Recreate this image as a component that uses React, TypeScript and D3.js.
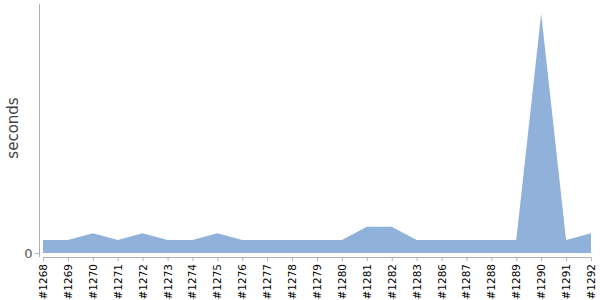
import React from "react";
import * as d3 from "d3";

const builds = ["#1268","#1269","#1270","#1271","#1272","#1273","#1274","#1275","#1276","#1277","#1278","#1279","#1280","#1281","#1282","#1283","#1286","#1287","#1288","#1289","#1290","#1291","#1292"];
const seconds = [2,2,3,2,3,2,2,3,2,2,2,2,2,4,4,2,2,2,2,2,36.5,2,3];
const yTicks = [0];
const yMax = 38;

export default function App() {
  const W = 600, H = 300;
  const x = d3.scalePoint<string>().domain(builds).range([43, 591]);
  const y = d3.scaleLinear().domain([0, yMax]).range([253, 4]);
  const area = d3.area<number>()
    .x((_, i) => x(builds[i]) as number)
    .y0(y(0))
    .y1((d) => y(d));
  return (
    <svg width={W} height={H} style={{ position: "absolute", left: 0, top: 0 }}>
      <path d={area(seconds) || ""} fill="#8fb1da" />
      <line x1={39.5} x2={39.5} y1={4} y2={257} stroke="#b0b0b0" />
      {yTicks.map((t) => (
        <g key={t}>
          <line x1={35} x2={39.5} y1={y(t) + 0.5} y2={y(t) + 0.5} stroke="#b0b0b0" />
          <text x={32.5} y={y(t)} dy="0.35em" textAnchor="end" fontFamily="DejaVu Sans" fontSize={13} fill="#555">{t}</text>
        </g>
      ))}
      <line x1={43} x2={591} y1={257.5} y2={257.5} stroke="#b0b0b0" />
      {builds.map((b) => (
        <g key={b} transform={`translate(${(x(b) as number)},0)`}>
          <line x1={0.5} x2={0.5} y1={257.5} y2={261} stroke="#b0b0b0" />
          <text transform={`translate(4,264) rotate(-90)`} textAnchor="end" fontFamily="DejaVu Sans" fontSize={10.5} fill="#000">{b}</text>
        </g>
      ))}
      <text transform="translate(18,128) rotate(-90)" textAnchor="middle" fontFamily="DejaVu Sans" fontSize={15} fill="#444">seconds</text>
    </svg>
  );
}
